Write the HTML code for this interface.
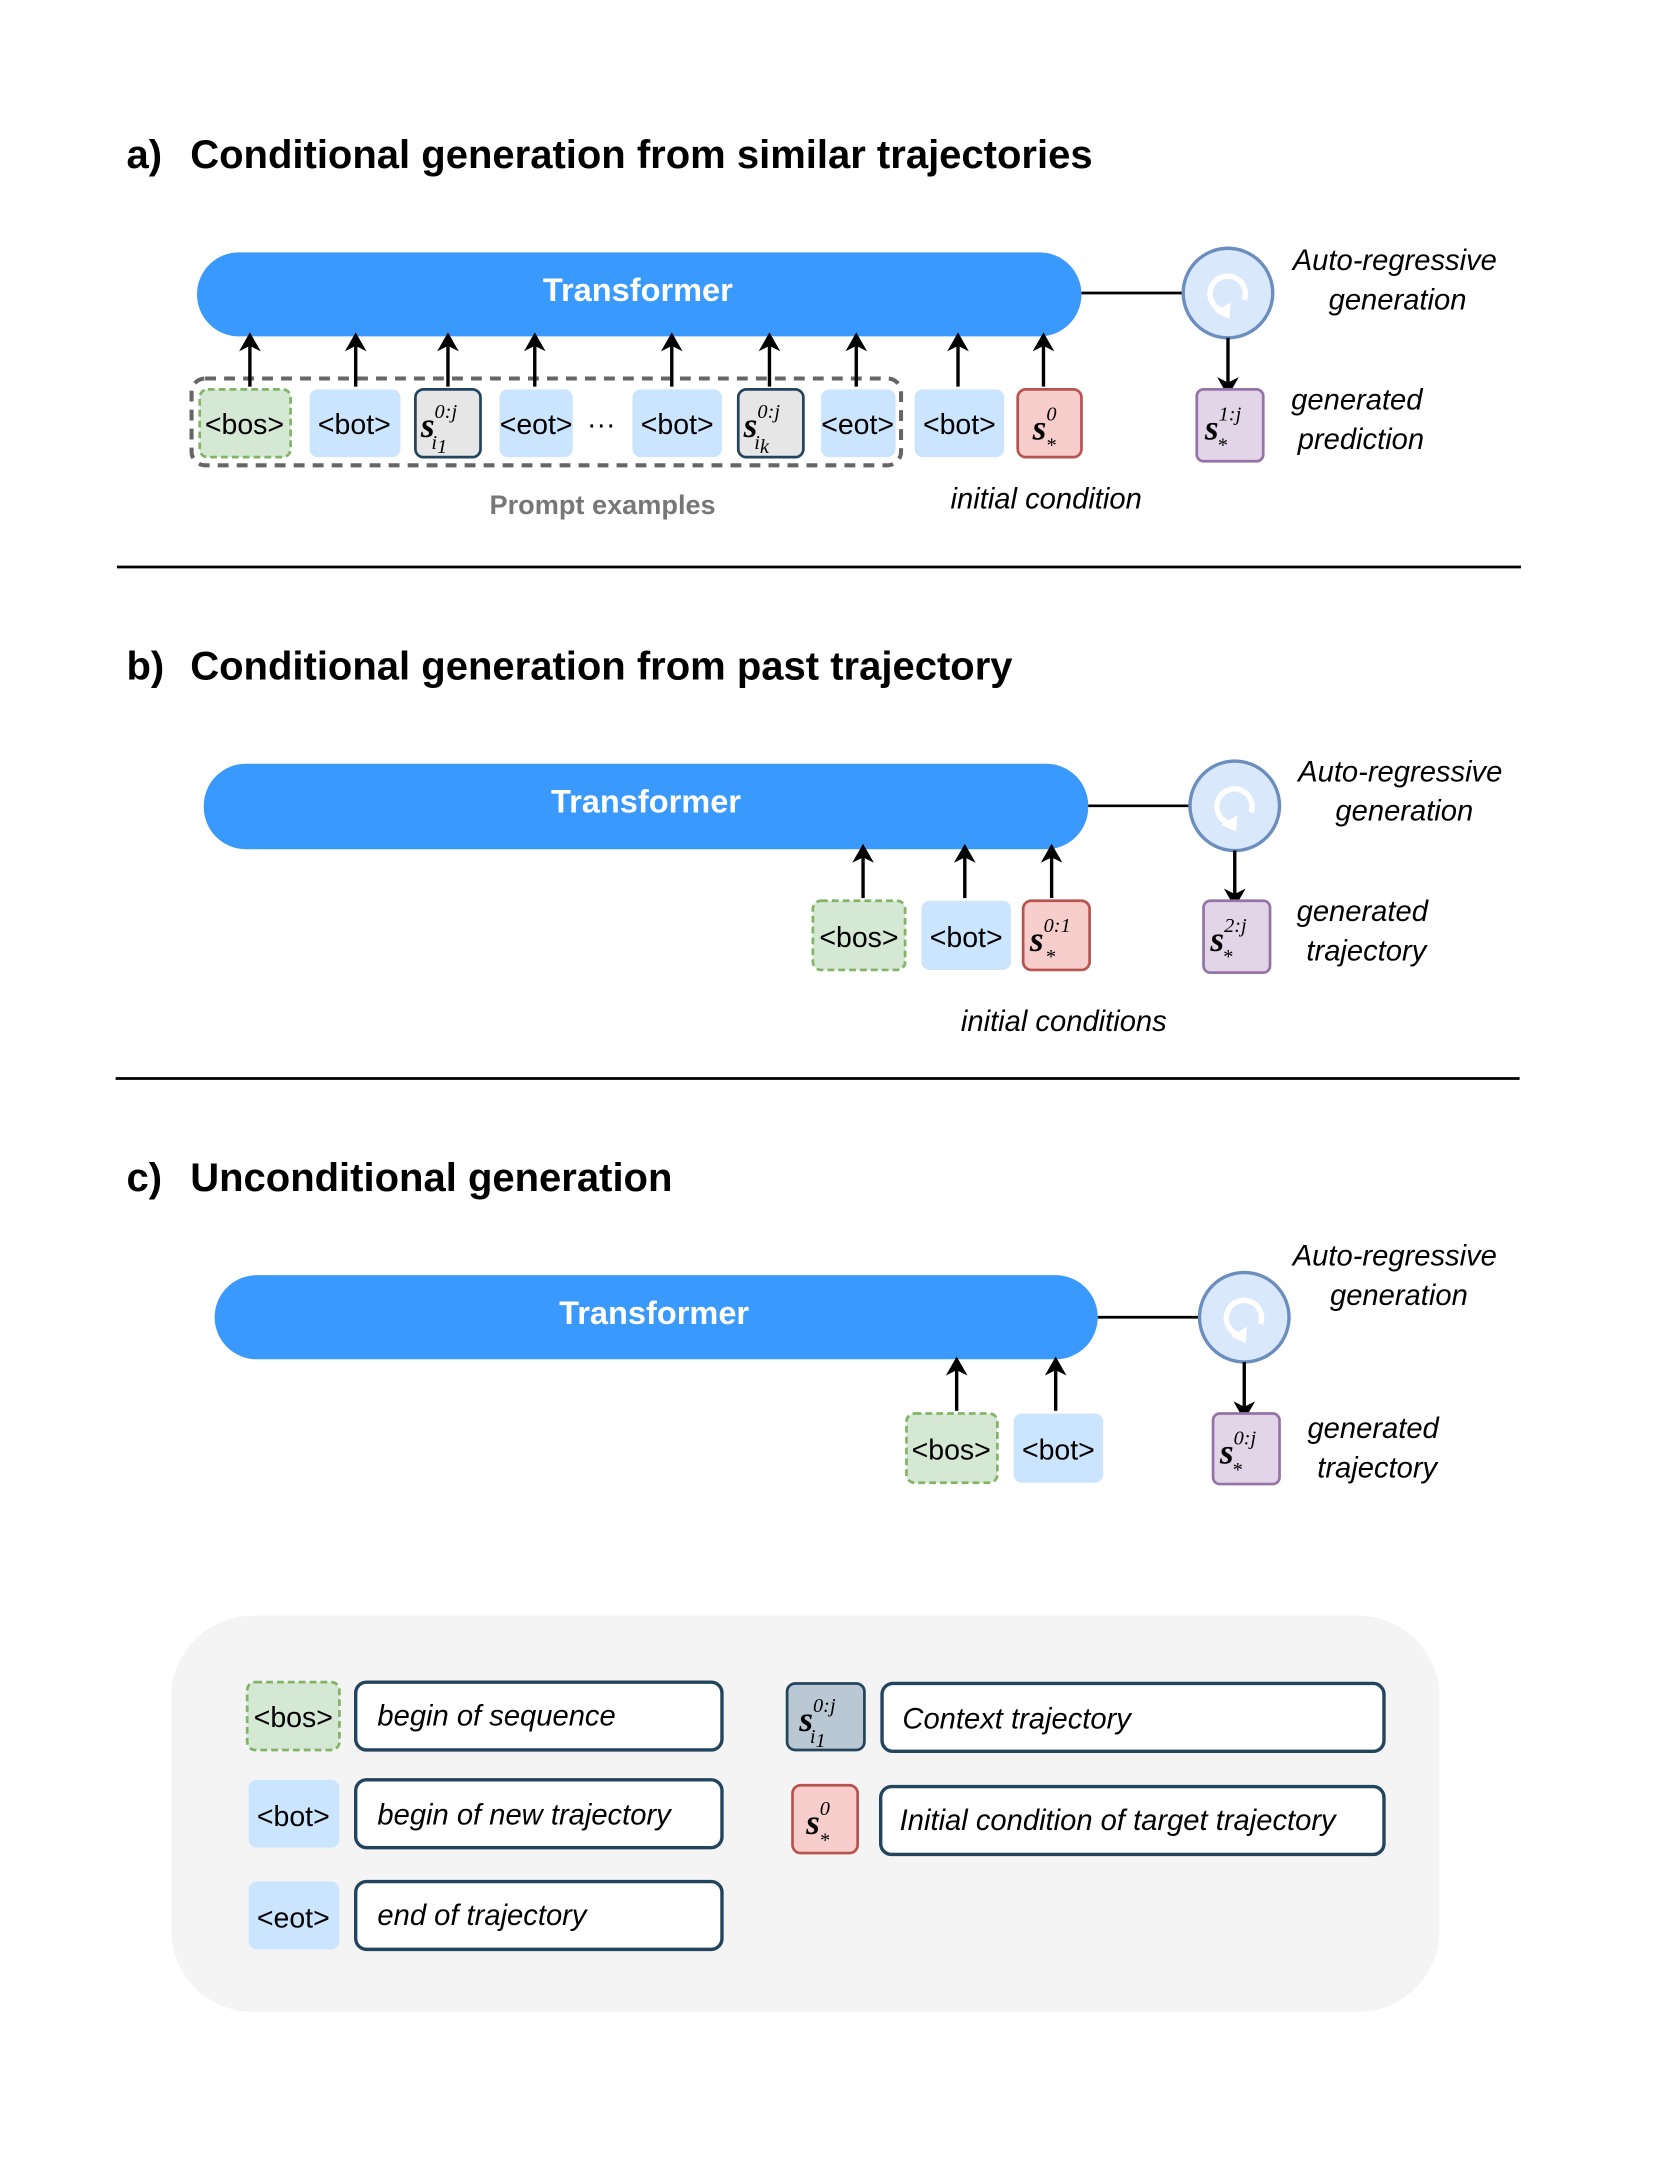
<!DOCTYPE html>
<html><head><meta charset="utf-8"><style>html,body{margin:0;padding:0;background:#fff}svg{display:block}</style></head>
<body>
<svg width="1661" height="2161" viewBox="0 0 1224 1593" xmlns="http://www.w3.org/2000/svg" font-family="Liberation Sans, sans-serif">
<defs>
<marker id="ah" markerWidth="14" markerHeight="16" refX="7" refY="8" orient="auto" markerUnits="userSpaceOnUse" viewBox="0 0 14 16"><path d="M0,0 L14,8 L0,16 L4,8 z" fill="#000"/></marker>
<g id="cyc"><circle r="33" fill="#dae8fc" stroke="#6c8ebf" stroke-width="2.5"/><path d="M-4,13 A13,13 0 1 1 12,5" fill="none" stroke="#fff" stroke-width="4"/><path d="M-10,14 L2,7 L1,19 z" fill="#fff"/></g>
</defs>
<style>
.tt{font-weight:bold;font-size:29.5px;fill:#000}
.tr{font-weight:bold;font-size:24px;fill:#fff}
.tok{font-size:21px;fill:#000}
.it{font-style:italic;font-size:21.5px;fill:#000}
.m{font-family:"Liberation Serif",serif;font-style:italic;font-weight:bold;font-size:26px}
.ms{font-family:"Liberation Serif",serif;font-style:italic;font-weight:normal;font-size:15px}
.bos{fill:#d5e8d4;stroke:#82b366;stroke-width:2;stroke-dasharray:5 3}
.bot{fill:#cce5ff;stroke:none}
.sg{fill:#e6e6e6;stroke:#23445d;stroke-width:2}
.sr{fill:#f8cecc;stroke:#b85450;stroke-width:2}
.sp{fill:#e1d5e7;stroke:#9673a6;stroke-width:2}
.ar{stroke:#000;stroke-width:2.5;marker-end:url(#ah)}
.lb{fill:#fff;stroke:#23445d;stroke-width:2.5}
</style>

<!-- a -->
<text x="93" y="124" class="tt">a)</text>
<text x="140" y="124" class="tt">Conditional generation from similar trajectories</text>
<rect x="145" y="186" width="652" height="62" rx="31" fill="#3a99fc"/>
<text x="470" y="222" class="tr" text-anchor="middle">Transformer</text>
<line x1="797" y1="216" x2="872" y2="216" stroke="#000" stroke-width="2"/>
<use href="#cyc" x="905" y="216"/>
<text x="1028" y="199" class="it" text-anchor="middle">Auto-regressive</text>
<text x="1030" y="228" class="it" text-anchor="middle">generation</text>
<line x1="905" y1="249" x2="905" y2="285" class="ar"/>
<rect x="882" y="287" width="49" height="53" rx="5" class="sp"/>
<text x="888" y="324" class="m">s<tspan class="ms" dy="-14">1:j</tspan><tspan class="ms" dx="-18" dy="23">*</tspan></text>
<text x="1000" y="302" class="it" text-anchor="middle">generated</text>
<text x="1003" y="331" class="it" text-anchor="middle">prediction</text>

<rect x="141" y="279" width="523" height="64" rx="10" fill="none" stroke="#666" stroke-width="3" stroke-dasharray="8 6"/>
<rect x="147" y="287" width="67" height="50" rx="6" class="bos"/><text x="180" y="320" class="tok" text-anchor="middle">&lt;bos&gt;</text>
<rect x="228" y="287" width="67" height="50" rx="6" class="bot"/><text x="261" y="320" class="tok" text-anchor="middle">&lt;bot&gt;</text>
<rect x="306" y="287" width="48" height="50" rx="6" class="sg"/>
<text x="310" y="322" class="m">s<tspan class="ms" dy="-14">0:j</tspan><tspan class="ms" dx="-19" dy="23">i</tspan><tspan class="ms" font-size="11" font-style="normal" dy="3">1</tspan></text>
<rect x="368" y="287" width="54" height="50" rx="6" class="bot"/><text x="395" y="320" class="tok" text-anchor="middle">&lt;eot&gt;</text>
<text x="443" y="320" class="tok" text-anchor="middle">···</text>
<rect x="466" y="287" width="66" height="50" rx="6" class="bot"/><text x="499" y="320" class="tok" text-anchor="middle">&lt;bot&gt;</text>
<rect x="544" y="287" width="48" height="50" rx="6" class="sg"/>
<text x="548" y="322" class="m">s<tspan class="ms" dy="-14">0:j</tspan><tspan class="ms" dx="-19" dy="23">i</tspan><tspan class="ms" font-size="11" dy="3">k</tspan></text>
<rect x="605" y="287" width="55" height="50" rx="6" class="bot"/><text x="632" y="320" class="tok" text-anchor="middle">&lt;eot&gt;</text>
<rect x="674" y="287" width="66" height="50" rx="6" class="bot"/><text x="707" y="320" class="tok" text-anchor="middle">&lt;bot&gt;</text>
<rect x="750" y="287" width="47" height="50" rx="6" class="sr"/>
<text x="761" y="324" class="m">s<tspan class="ms" dy="-14">0</tspan><tspan class="ms" dx="-8" dy="23">*</tspan></text>
<g>
<line x1="184" y1="285" x2="184" y2="252" class="ar"/><line x1="262" y1="285" x2="262" y2="252" class="ar"/>
<line x1="330" y1="285" x2="330" y2="252" class="ar"/><line x1="394" y1="285" x2="394" y2="252" class="ar"/>
<line x1="495" y1="285" x2="495" y2="252" class="ar"/><line x1="567" y1="285" x2="567" y2="252" class="ar"/>
<line x1="631" y1="285" x2="631" y2="252" class="ar"/><line x1="706" y1="285" x2="706" y2="252" class="ar"/>
<line x1="769" y1="285" x2="769" y2="252" class="ar"/>
</g>
<text x="444" y="379" font-size="20" font-weight="bold" fill="#777" text-anchor="middle">Prompt examples</text>
<text x="771" y="375" class="it" text-anchor="middle">initial condition</text>
<line x1="86" y1="418" x2="1121" y2="418" stroke="#000" stroke-width="2"/>

<!-- b -->
<text x="93" y="501" class="tt">b)</text>
<text x="140" y="501" class="tt">Conditional generation from past trajectory</text>
<rect x="150" y="563" width="652" height="63" rx="31" fill="#3a99fc"/>
<text x="476" y="599" class="tr" text-anchor="middle">Transformer</text>
<line x1="802" y1="594" x2="877" y2="594" stroke="#000" stroke-width="2"/>
<use href="#cyc" x="910" y="594"/>
<text x="1032" y="576" class="it" text-anchor="middle">Auto-regressive</text>
<text x="1035" y="605" class="it" text-anchor="middle">generation</text>
<line x1="910" y1="627" x2="910" y2="662" class="ar"/>
<rect x="887" y="664" width="49" height="53" rx="5" class="sp"/>
<text x="892" y="701" class="m">s<tspan class="ms" dy="-14">2:j</tspan><tspan class="ms" dx="-18" dy="23">*</tspan></text>
<text x="1004" y="679" class="it" text-anchor="middle">generated</text>
<text x="1007" y="708" class="it" text-anchor="middle">trajectory</text>
<rect x="599" y="664" width="68" height="51" rx="6" class="bos"/><text x="633" y="698" class="tok" text-anchor="middle">&lt;bos&gt;</text>
<rect x="679" y="664" width="66" height="51" rx="6" class="bot"/><text x="712" y="698" class="tok" text-anchor="middle">&lt;bot&gt;</text>
<rect x="754" y="664" width="49" height="51" rx="6" class="sr"/>
<text x="759" y="701" class="m">s<tspan class="ms" dy="-14">0:1</tspan><tspan class="ms" dx="-19" dy="23">*</tspan></text>
<line x1="636" y1="662" x2="636" y2="629" class="ar"/><line x1="711" y1="662" x2="711" y2="629" class="ar"/><line x1="775" y1="662" x2="775" y2="629" class="ar"/>
<text x="784" y="760" class="it" text-anchor="middle">initial conditions</text>
<line x1="85" y1="795" x2="1120" y2="795" stroke="#000" stroke-width="2"/>

<!-- c -->
<text x="93" y="878" class="tt">c)</text>
<text x="140" y="878" class="tt">Unconditional generation</text>
<rect x="158" y="940" width="651" height="62" rx="31" fill="#3a99fc"/>
<text x="482" y="976" class="tr" text-anchor="middle">Transformer</text>
<line x1="809" y1="971" x2="884" y2="971" stroke="#000" stroke-width="2"/>
<use href="#cyc" x="917" y="971"/>
<text x="1028" y="933" class="it" text-anchor="middle">Auto-regressive</text>
<text x="1031" y="962" class="it" text-anchor="middle">generation</text>
<line x1="917" y1="1004" x2="917" y2="1040" class="ar"/>
<rect x="894" y="1042" width="49" height="52" rx="5" class="sp"/>
<text x="899" y="1079" class="m">s<tspan class="ms" dy="-14">0:j</tspan><tspan class="ms" dx="-18" dy="23">*</tspan></text>
<text x="1012" y="1060" class="it" text-anchor="middle">generated</text>
<text x="1015" y="1089" class="it" text-anchor="middle">trajectory</text>
<rect x="668" y="1042" width="67" height="51" rx="6" class="bos"/><text x="701" y="1076" class="tok" text-anchor="middle">&lt;bos&gt;</text>
<rect x="747" y="1042" width="66" height="51" rx="6" class="bot"/><text x="780" y="1076" class="tok" text-anchor="middle">&lt;bot&gt;</text>
<line x1="705" y1="1040" x2="705" y2="1007" class="ar"/><line x1="778" y1="1040" x2="778" y2="1007" class="ar"/>

<!-- legend -->
<rect x="126" y="1191" width="935" height="292" rx="60" fill="#f4f4f4"/>
<rect x="182" y="1240" width="68" height="50" rx="6" class="bos"/><text x="216" y="1273" class="tok" text-anchor="middle">&lt;bos&gt;</text>
<rect x="262" y="1240" width="270" height="50" rx="8" class="lb"/><text x="278" y="1272" class="it">begin of sequence</text>
<rect x="183" y="1312" width="67" height="50" rx="6" class="bot"/><text x="216" y="1346" class="tok" text-anchor="middle">&lt;bot&gt;</text>
<rect x="262" y="1312" width="270" height="50" rx="8" class="lb"/><text x="278" y="1345" class="it">begin of new trajectory</text>
<rect x="183" y="1387" width="67" height="50" rx="6" class="bot"/><text x="216" y="1421" class="tok" text-anchor="middle">&lt;eot&gt;</text>
<rect x="262" y="1387" width="270" height="50" rx="8" class="lb"/><text x="278" y="1419" class="it">end of trajectory</text>
<rect x="580" y="1241" width="57" height="49" rx="6" fill="#bac8d3" stroke="#23445d" stroke-width="2"/>
<text x="589" y="1276" class="m">s<tspan class="ms" dy="-14">0:j</tspan><tspan class="ms" dx="-19" dy="23">i</tspan><tspan class="ms" font-size="11" dy="3">1</tspan></text>
<rect x="650" y="1241" width="370" height="50" rx="8" class="lb"/><text x="665" y="1274" class="it">Context trajectory</text>
<rect x="584" y="1316" width="48" height="50" rx="6" class="sr"/>
<text x="594" y="1352" class="m">s<tspan class="ms" dy="-14">0</tspan><tspan class="ms" dx="-8" dy="23">*</tspan></text>
<rect x="649" y="1317" width="371" height="50" rx="8" class="lb"/><text x="663" y="1349" class="it">Initial condition of target trajectory</text>
</svg>
</body></html>
